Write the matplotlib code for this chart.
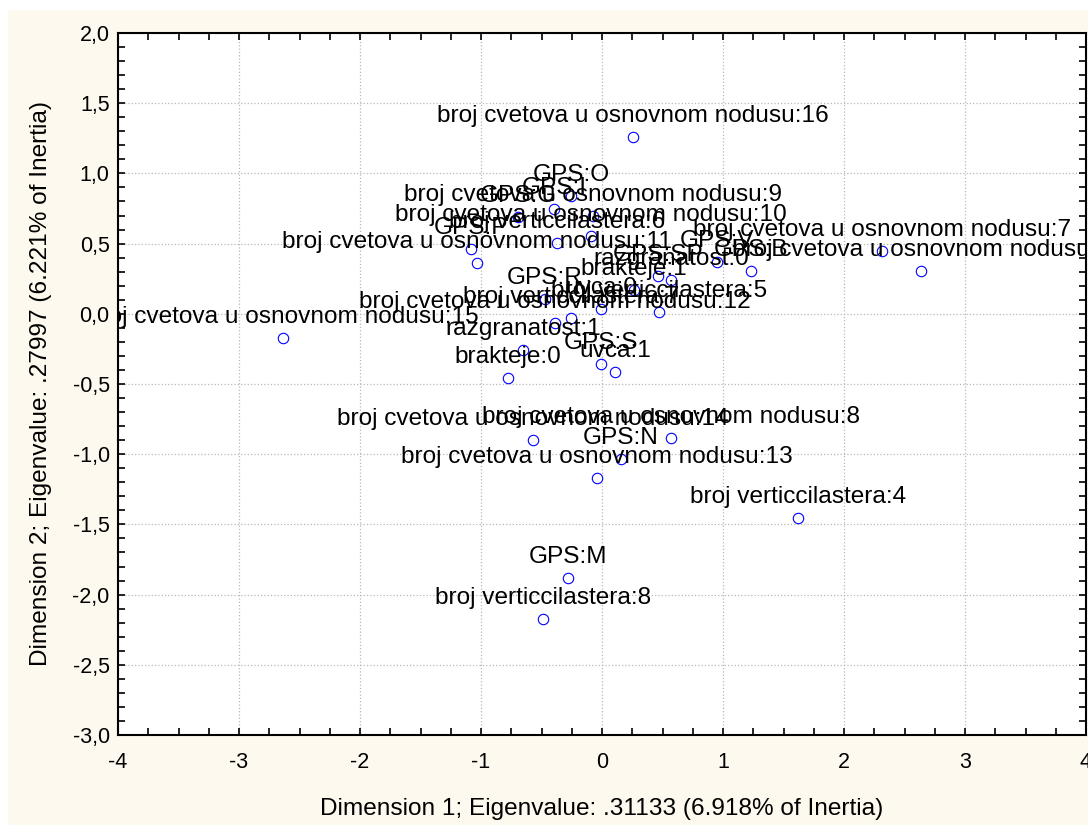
import matplotlib
matplotlib.use('Agg')
import matplotlib.pyplot as plt
from matplotlib.ticker import MultipleLocator, FuncFormatter
from matplotlib.patches import Rectangle

plt.rcParams['font.family'] = ['Liberation Sans', 'DejaVu Sans']
plt.rcParams['axes.unicode_minus'] = False

# category points (Dimension 1, Dimension 2)
labels = [
    'broj cvetova u osnovnom nodusu:16', 'GPS:O', 'GPS:I', 'GPS:G',
    'broj cvetova u osnovnom nodusu:9', 'broj cvetova u osnovnom nodusu:10',
    'GPS:P', 'broj verticcilastera:6', 'broj cvetova u osnovnom nodusu:11',
    'broj cvetova u osnovnom nodusu:7', 'broj cvetova u osnovnom nodusu:6',
    'GPS:V', 'GPS:B', 'GPS:SP', 'razgranatost:0', 'brakteje:1',
    'broj verticcilastera:5', 'broj cvetova u osnovnom nodusu:12', 'uvca:0',
    'broj verticcilastera:7', 'GPS:R', 'razgranatost:1', 'GPS:S', 'uvca:1',
    'brakteje:0', 'broj cvetova u osnovnom nodusu:14',
    'broj cvetova u osnovnom nodusu:8', 'GPS:N',
    'broj cvetova u osnovnom nodusu:13', 'broj verticcilastera:4', 'GPS:M',
    'broj verticcilastera:8', 'broj cvetova u osnovnom nodusu:15',
]
dim1 = [0.256, -0.256, -0.397, -0.694, -0.074, -0.091, -1.083, -0.372, -1.033,
        2.314, 2.636, 0.950, 1.231, 0.463, 0.570, 0.264, 0.471, -0.388, -0.008,
        -0.256, -0.471, -0.653, -0.008, 0.107, -0.777, -0.570, 0.570, 0.157,
        -0.041, 1.620, -0.281, -0.488, -2.636]
dim2 = [1.257, 0.836, 0.743, 0.693, 0.700, 0.557, 0.464, 0.507, 0.364,
        0.450, 0.307, 0.371, 0.307, 0.271, 0.243, 0.171, 0.014, -0.064, 0.036,
        -0.029, 0.107, -0.257, -0.357, -0.414, -0.457, -0.900, -0.886, -1.036,
        -1.171, -1.457, -1.879, -2.171, -0.171]

fig = plt.figure(figsize=(10.88, 8.25), dpi=100, facecolor='white')
bg = Rectangle((8 / 1088, 0), 1, 1 - 10 / 825, transform=fig.transFigure,
               facecolor='#fdf9ee', edgecolor='none', zorder=-10)
fig.patches.append(bg)
ax = fig.add_axes([118 / 1088, 90 / 825, 968 / 1088, 702 / 825])
ax.set_facecolor('white')

ax.plot(dim1, dim2, 'o', mfc='none', mec='#0000ff', ms=7.5, mew=0.8, zorder=3)
for lab, x, y in zip(labels, dim1, dim2):
    ax.annotate(lab, (x, y), xytext=(0, 21), textcoords='offset pixels',
                ha='center', va='center', fontsize=17.6, color='black',
                clip_on=True, zorder=4)

ax.set_xlim(-4, 4)
ax.set_ylim(-3, 2)
ax.xaxis.set_major_locator(MultipleLocator(1))
ax.xaxis.set_minor_locator(MultipleLocator(0.25))
ax.yaxis.set_major_locator(MultipleLocator(0.5))
ax.yaxis.set_minor_locator(MultipleLocator(0.1))
ax.yaxis.set_major_formatter(FuncFormatter(lambda v, p: f'{v:.1f}'.replace('.', ',')))
ax.xaxis.set_major_formatter(FuncFormatter(lambda v, p: f'{v:.0f}'))
ax.tick_params(which='both', direction='in', top=True, right=True,
               width=1.2, labelsize=15.5)
ax.tick_params(axis='x', which='major', pad=12)
ax.tick_params(axis='y', which='major', pad=6)
ax.tick_params(which='major', length=5)
ax.tick_params(which='minor', length=5)
for s in ax.spines.values():
    s.set_linewidth(1.5)
ax.grid(True, which='major', linestyle=':', color='#b8b8b8', linewidth=0.9)
ax.set_axisbelow(True)

ax.set_xlabel('Dimension 1; Eigenvalue: .31133 (6.918% of Inertia)', fontsize=17.6, labelpad=18)
ax.set_ylabel('Dimension 2; Eigenvalue: .27997 (6.221% of Inertia)', fontsize=17.6, labelpad=15)

fig.savefig('out.png', dpi=100, facecolor=fig.get_facecolor())
